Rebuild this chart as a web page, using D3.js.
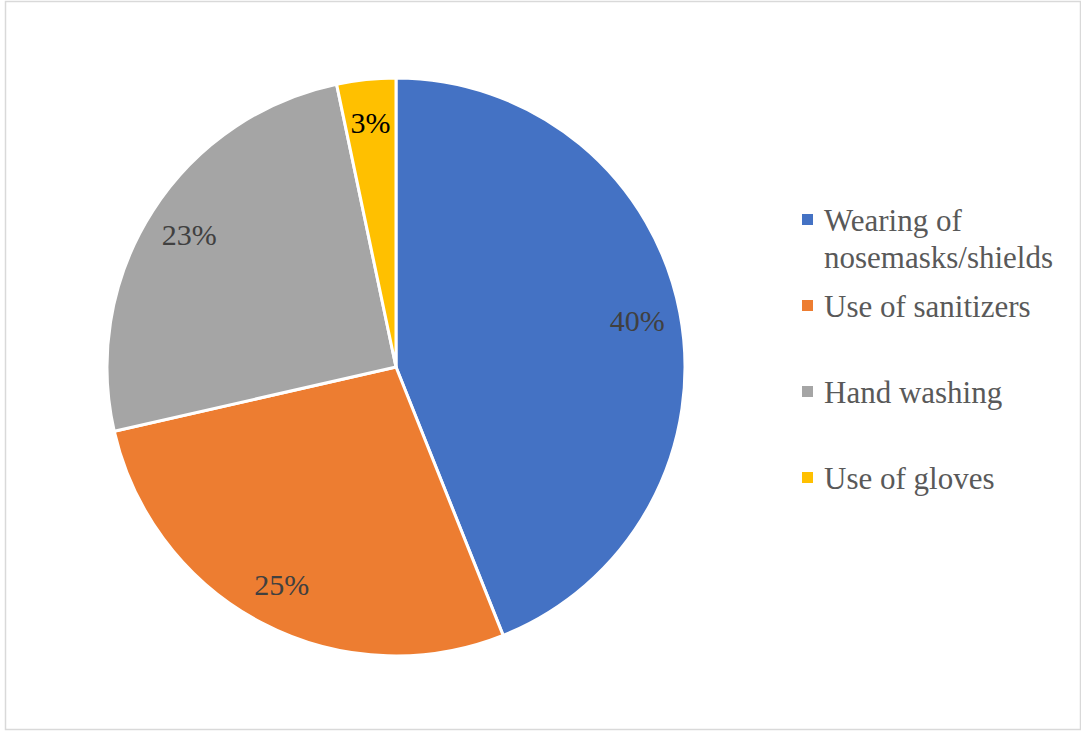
<!DOCTYPE html>
<html>
<head>
<meta charset="utf-8">
<script src="https://cdn.jsdelivr.net/npm/d3@7"></script>
<style>
	html, body { margin: 0; padding: 0; background: #fff; }
	svg { display: block; }
	svg text { font-family: "Liberation Serif", "Times New Roman", serif; }
</style>
</head>
<body>
<svg id="chart" width="1081" height="731"></svg>
<script>
/* global d3 */

const categories = ['Wearing of nosemasks/shields', 'Use of sanitizers', 'Hand washing', 'Use of gloves'];
const legendLines = [['Wearing of', 'nosemasks/shields'], ['Use of sanitizers'], ['Hand washing'], ['Use of gloves']];
const values = [40, 25, 23, 3];
const colors = ['#4472C4', '#ED7D31', '#A5A5A5', '#FFC000'];
const labelColors = ['#404040', '#404040', '#404040', '#000000'];

const width = 1081;
const height = 731;
const serif = '"Liberation Serif", "Times New Roman", serif';

const svg = d3.select('#chart');

// outer chart border
svg.append('rect')
	.attr('x', 5.5)
	.attr('y', 1.5)
	.attr('width', width - 6)
	.attr('height', height - 3)
	.attr('fill', '#fff')
	.attr('stroke', '#d9d9d9')
	.attr('stroke-width', 1.5);

const cx = 396;
const cy = 367;
const radius = 289;

const pie = d3.pie().sort(null).value(d => d);
const arcs = pie(values);

const arc = d3.arc().innerRadius(0).outerRadius(radius);
const labelArc = d3.arc().innerRadius(radius * 0.85).outerRadius(radius * 0.85);

const pieGroup = svg.append('g')
	.attr('transform', `translate(${cx},${cy})`);

pieGroup.selectAll('path.slice')
	.data(arcs)
	.enter().append('path')
	.attr('class', 'slice')
	.attr('d', arc)
	.attr('fill', (d, i) => colors[i])
	.attr('stroke', '#fff')
	.attr('stroke-width', 3)
	.attr('stroke-linejoin', 'round');

pieGroup.selectAll('text.pie-label')
	.data(arcs)
	.enter().append('text')
	.attr('class', 'pie-label')
	.attr('transform', d => `translate(${labelArc.centroid(d)})`)
	.attr('text-anchor', 'middle')
	.attr('dy', '0.35em')
	.attr('font-family', serif)
	.attr('font-size', 30)
	.attr('fill', (d, i) => labelColors[i])
	.text(d => `${d.data}%`);

// legend
const legendX = 802;
const legendY = 231;
const entryGap = 86;
const lineGap = 37;

const legend = svg.append('g')
	.attr('class', 'legend');

const entry = legend.selectAll('g.entry')
	.data(categories)
	.enter().append('g')
	.attr('class', 'entry')
	.attr('transform', (d, i) => `translate(${legendX},${legendY + i * entryGap})`);

entry.append('rect')
	.attr('x', 0)
	.attr('y', -17)
	.attr('width', 11)
	.attr('height', 11)
	.attr('fill', (d, i) => colors[i]);

const legendText = entry.append('text')
	.attr('font-family', serif)
	.attr('font-size', 31)
	.attr('fill', '#595959');

legendText.selectAll('tspan')
	.data((d, i) => legendLines[i])
	.enter().append('tspan')
	.attr('x', 22)
	.attr('dy', (d, i) => (i === 0 ? 0 : lineGap))
	.text(d => d);
</script>
</body>
</html>
